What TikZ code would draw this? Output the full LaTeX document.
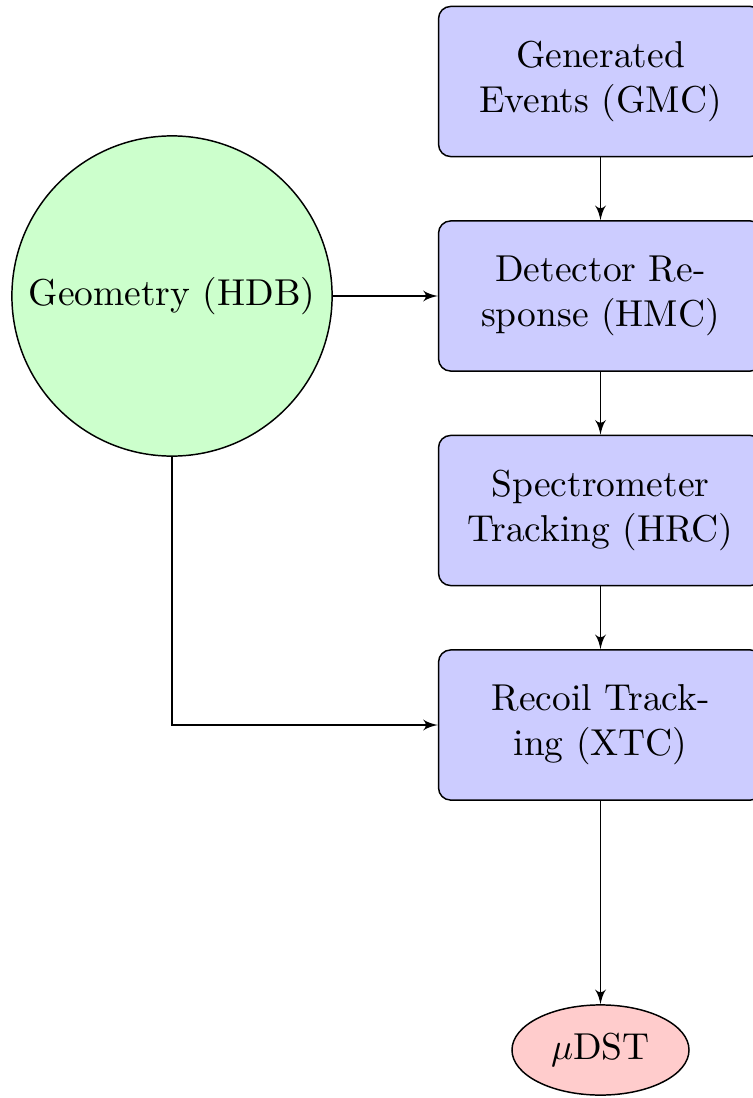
\documentclass[tikz,border=0pt]{standalone}
\usetikzlibrary{arrows,shapes.geometric}
\tikzset{
  every node/.style={font=\fontsize{10.18pt}{12.2pt}\selectfont},
  blockbox/.style={rectangle, draw, fill=blue!20, rounded corners=3.3pt, minimum width=88pt, minimum height=40.8pt, align=center, inner sep=0pt},
  cloudnode/.style={circle, draw, fill=green!20, minimum size=87pt, inner sep=0pt},
  endnode/.style={ellipse, draw, fill=red!20, minimum width=48.1pt, minimum height=24.5pt, inner sep=0pt},
  conn/.style={draw, -latex'}
}
\begin{document}
\begin{tikzpicture}[x=0.2717pt,y=-0.2717pt]
\useasboundingbox (0,0) rectangle (753,1098);
\node[blockbox] (gmc) at (600.5,81.5) {Generated\\Events (GMC)};
\node[blockbox] (hmc) at (600.5,296) {Detector Re-\\sponse (HMC)};
\node[blockbox] (hrc) at (600.5,510.5) {Spectrometer\\Tracking (HRC)};
\node[blockbox] (xtc) at (600.5,725) {Recoil Track-\\ing (XTC)};
\node[cloudnode] (hdb) at (172,296) {Geometry (HDB)};
\node[endnode] (dst) at (600.5,1050) {$\mu$DST};
\path[conn] (gmc) -- (hmc);
\path[conn] (hmc) -- (hrc);
\path[conn] (hrc) -- (xtc);
\path[conn] (xtc) -- (dst);
\path[conn] (hdb) -- (hmc);
\path[conn] (hdb) |- (xtc);
\end{tikzpicture}
\end{document}
